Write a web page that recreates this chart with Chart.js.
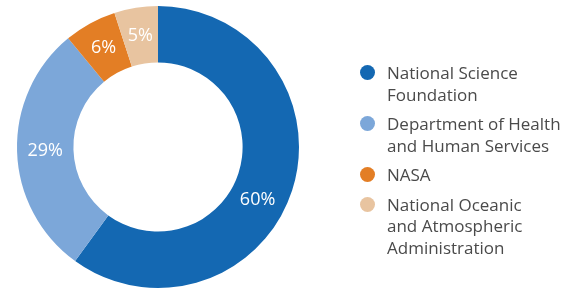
<!DOCTYPE html>
<html>
<head>
<meta charset="utf-8">
<script src="https://cdn.jsdelivr.net/npm/chart.js@4"></script>
<style>
  body { margin: 0; background: #fff; }
  #wrap { position: relative; width: 564px; height: 290px; }
  #legend {
    position: absolute; left: 360px; top: 62px;
    font-family: "Open Sans", sans-serif; font-size: 17px; color: #4a4a4a;
    list-style: none; margin: 0; padding: 0;
  }
  #legend li { position: relative; padding-left: 27px; line-height: 21.5px; margin-bottom: 8px; white-space: pre; }
  #legend li span {
    position: absolute; left: 0; top: 3px; width: 15px; height: 15px; border-radius: 50%;
  }
</style>
</head>
<body>
<div id="wrap">
  <canvas id="donut" width="564" height="290"></canvas>
  <ul id="legend"></ul>
</div>
<script>
const agencies = [
    ['National Science', 'Foundation'],
    ['Department of Health', 'and Human Services'],
    ['NASA'],
    ['National Oceanic', 'and Atmospheric', 'Administration']
];
const shares = [60, 29, 6, 5];
const colors = ['#1468b2', '#7ca7d9', '#e37e25', '#e8c4a0'];
const labelShift = [10, 0, 0, 0]; // degrees, nudges the big label like the original

const pctLabels = {
    id: 'pctLabels',
    afterDatasetsDraw(chart) {
        const ctx = chart.ctx;
        const meta = chart.getDatasetMeta(0);
        ctx.save();
        ctx.fillStyle = '#fff';
        ctx.font = '18px "Open Sans", sans-serif';
        ctx.textAlign = 'center';
        ctx.textBaseline = 'middle';
        meta.data.forEach((arc, i) => {
            const p = arc.getProps(['x', 'y', 'startAngle', 'endAngle', 'innerRadius', 'outerRadius']);
            const a = (p.startAngle + p.endAngle) / 2 + labelShift[i] * Math.PI / 180;
            const r = (p.innerRadius + p.outerRadius) / 2;
            ctx.fillText(shares[i] + '%', p.x + Math.cos(a) * r, p.y + Math.sin(a) * r);
        });
        ctx.restore();
    }
};

new Chart(document.getElementById('donut'), {
    type: 'doughnut',
    data: {
        labels: agencies.map(l => l.join(' ')),
        datasets: [{
            data: shares,
            backgroundColor: colors,
            borderWidth: 0
        }]
    },
    options: {
        responsive: false,
        animation: false,
        cutout: '60%',
        layout: { padding: { left: 17, right: 265, top: 6, bottom: 2 } },
        plugins: {
            legend: { display: false },
            tooltip: { enabled: false }
        }
    },
    plugins: [pctLabels]
});

// legend built from the same arrays
const legend = document.getElementById('legend');
agencies.forEach((lines, i) => {
    const li = document.createElement('li');
    const dot = document.createElement('span');
    dot.style.background = colors[i];
    li.appendChild(dot);
    li.appendChild(document.createTextNode(lines.join('\n')));
    legend.appendChild(li);
});
</script>
</body>
</html>
